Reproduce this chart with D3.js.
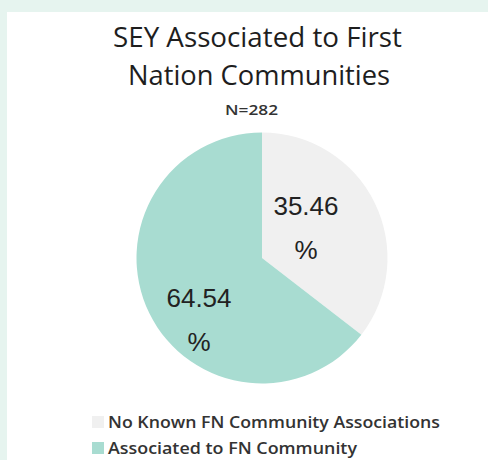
<!DOCTYPE html>
<html>
<head>
<meta charset="utf-8">
<script src="https://cdn.jsdelivr.net/npm/d3@7"></script>
<style>
  html, body { margin: 0; padding: 0; background: #e6f4ef; }
  svg { display: block; }
</style>
</head>
<body>
<script>
const categories = ["No Known FN Community Associations", "Associated to FN Community"];
const values = [35.46, 64.54];
const labels = ["35.46\n%", "64.54\n%"];
const colors = ["#f0f0f0", "#a8dcd1"];
const titleLines = ["SEY Associated to First", "Nation Communities"];
const subtitle = "N=282";

const W = 488, H = 460;
const svg = d3.select("body").append("svg").attr("width", W).attr("height", H);

svg.append("rect").attr("x", 0).attr("y", 0).attr("width", W).attr("height", H).attr("fill", "#e6f4ef");
svg.append("rect").attr("x", 7).attr("y", 12).attr("width", W - 7).attr("height", H - 12).attr("fill", "#ffffff");

const titleFont = "'Open Sans', sans-serif";
const titleWidths = [289, 262];
const titleX = [257.5, 259];
svg.selectAll("text.title").data(titleLines).enter().append("text")
  .attr("class", "title")
  .attr("x", (d, i) => titleX[i]).attr("y", (d, i) => 47 + i * 38)
  .attr("text-anchor", "middle")
  .attr("font-family", titleFont)
  .attr("font-size", 27)
  .attr("textLength", (d, i) => titleWidths[i])
  .attr("lengthAdjust", "spacingAndGlyphs")
  .attr("fill", "#1e1e1e")
  .text(d => d);

svg.append("text")
  .attr("x", 251.5).attr("y", 115)
  .attr("text-anchor", "middle")
  .attr("font-family", titleFont)
  .attr("font-size", 14)
  .attr("font-weight", 600)
  .attr("textLength", 53)
  .attr("lengthAdjust", "spacingAndGlyphs")
  .attr("fill", "#333")
  .text(subtitle);

const cx = 262, cy = 258, r = 125.5;
const pie = d3.pie().sort(null).value(d => d)(values);
const arc = d3.arc().innerRadius(0).outerRadius(r);
const g = svg.append("g").attr("transform", `translate(${cx},${cy})`);
g.selectAll("path").data(pie).enter().append("path")
  .attr("d", arc)
  .attr("fill", (d, i) => colors[i]);

const labelArc = d3.arc().innerRadius(r * 0.4).outerRadius(r * 0.4);
const lineGap = 44;
g.selectAll("text.lbl").data(pie).enter().append("text")
  .attr("class", "lbl")
  .attr("font-family", "'Liberation Sans', Arial, sans-serif")
  .attr("font-size", 26)
  .attr("fill", "#222")
  .attr("text-anchor", "middle")
  .each(function(d, i) {
    const c = labelArc.centroid(d);
    const off = i === 0 ? [306 - cx - c[0], 215 - cy - c[1]] : [199 - cx - c[0], 307 - cy - c[1]];
    const parts = labels[i].split("\n");
    d3.select(this).selectAll("tspan").data(parts).enter().append("tspan")
      .attr("x", c[0] + off[0])
      .attr("y", (p, j) => c[1] + off[1] + j * lineGap)
      .text(p => p);
  });

const legWidths = [332, 249];
const leg = svg.append("g");
categories.forEach((c, i) => {
  const y = 428 + i * 26;
  leg.append("rect").attr("x", 92).attr("y", y - 12).attr("width", 12).attr("height", 12).attr("fill", colors[i]);
  leg.append("text").attr("x", 108).attr("y", y)
    .attr("font-family", titleFont)
    .attr("font-size", 17)
    .attr("font-weight", 600)
    .attr("textLength", legWidths[i])
    .attr("lengthAdjust", "spacingAndGlyphs")
    .attr("fill", "#333")
    .text(c);
});
</script>
</body>
</html>
